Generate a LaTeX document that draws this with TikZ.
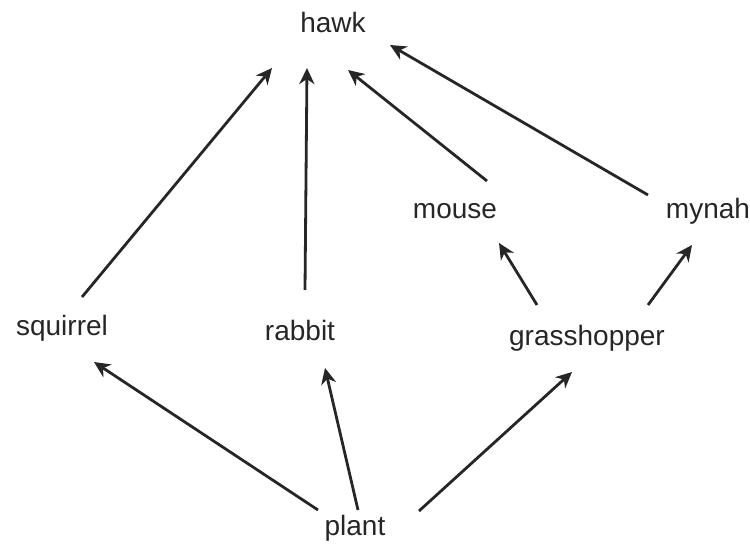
\documentclass[tikz,border=0pt]{standalone}
\usepackage{fontspec}
\setmainfont{Liberation Sans}
\usetikzlibrary{arrows.meta,calc}
\begin{document}
\begin{tikzpicture}[x=1pt,y=1pt,
  lbl/.style={inner sep=0pt,font=\fontsize{28}{32}\selectfont,text=black!85},
  arr/.style={-{Stealth[length=16pt,width=15pt,inset=5pt]},line width=2.8pt,black!85}]
\useasboundingbox (0,0) rectangle (750,557);
\node[lbl] (hawk) at (333,535) {hawk};
\node[lbl] (mouse) at (455,346) {mouse};
\node[lbl] (mynah) at (708,346) {mynah};
\node[lbl] (squirrel) at (62,229) {squirrel};
\node[lbl] (rabbit) at (300,227) {rabbit};
\node[lbl] (grasshopper) at (587,219) {grasshopper};
\node[lbl] (plant) at (355,29) {plant};
\draw[arr] ($(squirrel)+(20,31)$) -- ($(hawk)+(-61,-46)$);
\draw[arr] ($(rabbit)+(5,40)$) -- ($(hawk)+(-26,-46)$);
\draw[arr] ($(mouse)+(32,30)$) -- ($(hawk)+(15,-48)$);
\draw[arr] ($(mynah)+(-60,16)$) -- ($(hawk)+(57,-23)$);
\draw[arr] ($(grasshopper)+(-50,33)$) -- ($(mouse)+(44,-32)$);
\draw[arr] ($(grasshopper)+(61,33)$) -- ($(mynah)+(-16,-34)$);
\draw[arr] ($(plant)+(-37,18)$) -- ($(squirrel)+(32,-34)$);
\draw[arr] ($(plant)+(3,18)$) -- ($(rabbit)+(25,-38)$);
\draw[arr] ($(plant)+(64,17)$) -- ($(grasshopper)+(-15,-34)$);
\end{tikzpicture}
\end{document}
